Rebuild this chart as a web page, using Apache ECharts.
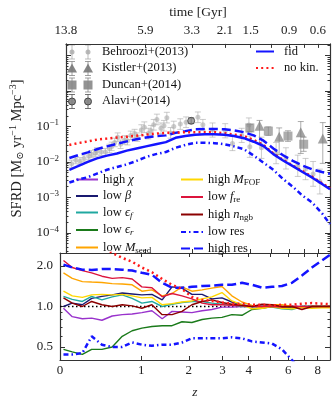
<!DOCTYPE html>
<html lang="en">
<head>
<meta charset="UTF-8">
<title>sfrd</title>
<script src="https://cdn.jsdelivr.net/npm/echarts@6/dist/echarts.min.js"></script>
<style>html,body{margin:0;padding:0;background:#fff}#main{width:332px;height:401px}</style>
</head>
<body>
<div id="main"></div>
<script>
var serif = '"Liberation Serif", "DejaVu Serif", serif';

// ---- data ----
var zModel = [0.03,0.11,0.21,0.31,0.43,0.56,0.70,0.85,1.01,1.19,1.39,1.60,1.83,2.08,2.36,2.65,2.98,3.33,3.72,4.14,4.60,5.10,5.64,6.23,6.87,7.57,8.33,9.0];

// top panel, SFRD in Msun/yr/Mpc^3
var sfrdFid = [0.0060,0.0076,0.0100,0.0126,0.0151,0.0174,0.0209,0.0240,0.0275,0.0316,0.0363,0.0479,0.0537,0.0589,0.0603,0.0603,0.0589,0.0537,0.0468,0.0372,0.0282,0.0166,0.0110,0.0076,0.0052,0.0036,0.0024,0.0017];
var sfrdNoKin = [0.0302,0.0339,0.0380,0.0427,0.0457,0.0490,0.0513,0.0550,0.0589,0.0631,0.0661,0.0676,0.0692,0.0692,0.0692,0.0692,0.0646,0.0589,0.0537,0.0417,0.0302,0.0174,0.0115,0.0079,0.0055,0.0038,0.0025,0.0018];
var sfrdLowRes = [0.00263,0.00316,0.00372,0.00468,0.00603,0.00724,0.00851,0.0107,0.0138,0.0166,0.0191,0.0251,0.0302,0.0347,0.0347,0.0339,0.0316,0.0275,0.0229,0.0151,0.00955,0.00603,0.00331,0.0020,0.00112,0.00071,0.000355,0.000178];
var sfrdHighRes = [0.0129,0.0155,0.0186,0.0229,0.0275,0.0324,0.0380,0.0437,0.0490,0.0537,0.0562,0.0661,0.0741,0.0832,0.0851,0.0851,0.0832,0.0776,0.0692,0.0562,0.0398,0.0240,0.0155,0.0107,0.0079,0.0062,0.0052,0.0046];

// bottom panel, ratio to fid
var ratioHighChi = [0.97,0.84,0.81,0.82,0.79,0.85,0.87,0.88,0.90,0.93,0.81,0.92,0.91,0.90,0.93,0.95,0.99,0.99,1.0,1.0,1.0,1.0,0.99,1.0,1.0,1.0,1.0,1.0];
var ratioLowBeta = [1.0,1.06,1.03,1.15,1.19,1.22,1.26,1.24,1.22,1.23,1.12,1.4,1.37,1.23,1.23,1.14,1.16,1.08,1.03,1.0,1.0,1.02,0.98,1.0,0.99,1.0,1.0,1.0];
var ratioLowEf = [1.19,1.13,1.09,1.19,1.12,1.18,1.22,1.15,1.06,1.09,1.0,1.04,1.07,1.09,1.09,1.06,1.04,1.03,1.0,1.0,1.0,0.99,0.96,0.95,1.0,1.0,1.0,1.0];
var ratioLowEr = [0.48,0.46,0.44,0.48,0.48,0.50,0.60,0.66,0.69,0.71,0.72,0.72,0.77,0.76,0.80,0.82,0.83,0.87,0.86,0.95,0.97,1.0,1.0,0.98,1.0,1.0,1.0,1.0];
var ratioLowMseed = [1.78,1.62,1.53,1.52,1.51,1.48,1.47,1.45,1.3,1.33,1.2,1.25,1.4,1.3,1.33,1.37,1.41,1.2,1.08,1.02,0.97,1.03,1.03,1.0,0.98,1.0,1.0,1.0];
var ratioHighMfof = [1.30,1.2,1.17,1.22,1.23,1.22,1.23,1.2,1.16,1.17,1.03,1.05,1.08,1.1,1.14,1.18,1.27,1.1,1.03,0.96,0.97,1.0,0.97,0.96,0.98,0.97,0.98,0.98];
var ratioLowFre = [2.2,1.95,1.85,1.78,1.68,1.62,1.64,1.6,1.4,1.38,1.18,1.25,1.2,1.14,1.06,1.03,1.03,1.02,1.01,1.0,1.0,1.0,0.99,1.0,1.0,1.0,1.0,1.0];
var ratioHighNngb = [1.16,1.06,1.0,1.09,1.03,1.0,1.03,1.01,0.97,1.03,0.87,0.87,0.92,1.03,1.09,1.12,1.07,1.04,1.02,1.0,1.04,1.03,1.0,1.0,0.95,1.0,1.0,1.0];
var ratioNoKin = [4.5,4.2,3.8,3.3,2.9,2.5,2.3,2.15,1.95,1.8,1.6,1.45,1.35,1.18,1.12,1.1,1.07,1.05,1.05,1.03,1.03,1.02,1.03,1.03,1.05,1.06,1.05,1.04];
var ratioLowRes = [0.44,0.44,0.45,0.6,0.52,0.5,0.5,0.54,0.52,0.51,0.52,0.52,0.54,0.58,0.58,0.58,0.58,0.59,0.58,0.55,0.54,0.53,0.48,0.4,0.33,0.27,0.22,0.19];
var ratioHighRes = [2.05,1.95,1.88,1.87,1.9,1.9,1.88,1.85,1.78,1.72,1.5,1.38,1.38,1.4,1.42,1.43,1.45,1.45,1.5,1.45,1.38,1.4,1.42,1.5,1.7,1.95,2.2,2.42];

// observations (errors in dex)
var behZ = [0.05,0.09,0.13,0.17,0.22,0.25,0.29,0.31,0.36,0.41,0.46,0.49,0.53,0.57,0.61,0.67,0.71,0.76,0.82,0.86,0.93,0.98,1.05,1.10,1.15,1.21,1.29,1.35,1.41,1.49,1.56,1.71,1.85,2.16,2.30,2.59,3.01,3.27,3.63,3.93,3.97,4.50,5.25,5.81,6.55,7.08,7.63,8.15];
var behSFRD = [0.0089,0.0112,0.0105,0.0126,0.0145,0.0166,0.0178,0.0200,0.0191,0.0191,0.0240,0.0275,0.0355,0.0501,0.0316,0.0417,0.0398,0.0562,0.0631,0.0501,0.0794,0.0955,0.0631,0.0759,0.112,0.158,0.0891,0.105,0.178,0.0661,0.100,0.117,0.132,0.182,0.112,0.0794,0.0759,0.0331,0.0562,0.110,0.0269,0.0251,0.0178,0.0126,0.0078,0.0063,0.0046,0.0028];
var behErr = [0.1,0.1,0.1,0.1,0.1,0.1,0.1,0.1,0.1,0.1,0.12,0.12,0.12,0.12,0.12,0.12,0.12,0.12,0.12,0.12,0.15,0.15,0.15,0.15,0.15,0.15,0.15,0.15,0.15,0.15,0.15,0.15,0.15,0.15,0.15,0.2,0.2,0.2,0.2,0.2,0.3,0.3,0.3,0.3,0.3,0.3,0.35,0.35];
var kisZ = [4.41,5.42,6.75,8.39];
var kisSFRD = [0.105,0.0513,0.0692,0.0457];
var kisErrLo = [0.5,0.5,0.6,0.7];
var kisErrHi = [0.15,0.25,0.3,0.45];
var dunZ = [3.97,4.84,5.93,6.95];
var dunSFRD = [0.0912,0.0741,0.0537,0.0316];
var dunErr = [0.1,0.12,0.15,0.2];
var alaZ = [1.98];
var alaSFRD = [0.145];
var alaErr = [0.08];

// axis ticks
var zTickLabels = [0, 1, 2, 3, 4, 6, 8];
var timeLabels = ['13.8', '5.9', '3.3', '2.1', '1.5', '0.9', '0.6'];
var ratioLabels = [0.5, 1, 2];

// ---- chart ----
var chart = echarts.init(document.getElementById('main'));

function pts(zs, vs) {
    return zs.map(function (z, i) { return [1 + z, vs[i]]; });
}

var xTicks = [2, 3, 4, 5, 6, 7, 8, 9];
var xLabelVals = zTickLabels.map(function (z) { return 1 + z; });
var yMajor = [1e-4, 1e-3, 1e-2, 1e-1, 1, 10];
var yMinor = [];
[1e-5, 1e-4, 1e-3, 1e-2, 1e-1, 1, 10].forEach(function (d) {
    for (var k = 2; k <= 9; k++) yMinor.push(+(k * d).toPrecision(3));
});
var rMajor = [0.5, 1, 2];
var rMinor = [0.6, 0.7, 0.8, 0.9];

var lineCol = '#333';
var labelStyle = { fontFamily: serif, fontSize: 13, color: '#222' };

function xAx(grid, pos, extra) {
    var a = {
        gridIndex: grid, type: 'log', logBase: 10, min: 1, max: 10, position: pos,
        axisLine: { lineStyle: { color: lineCol, width: 1.2 } },
        axisTick: { inside: true, length: 4, customValues: xTicks, lineStyle: { color: lineCol, width: 1 } },
        axisLabel: { show: false },
        splitLine: { show: false }, minorTick: { show: false }
    };
    return Object.assign(a, extra || {});
}
function yAx(grid, pos, min, max, ticks, len, extra) {
    var a = {
        gridIndex: grid, type: 'log', logBase: 10, min: min, max: max, position: pos,
        axisLine: { show: true, lineStyle: { color: lineCol, width: 1.2 } },
        axisTick: { inside: true, length: len, customValues: ticks, lineStyle: { color: lineCol, width: 1 } },
        axisLabel: { show: false },
        splitLine: { show: false }, minorTick: { show: false }
    };
    return Object.assign(a, extra || {});
}

var yMin = 2.7e-5, yMax = 21.4;

var xAxes = [
    xAx(0, 'bottom'),
    xAx(0, 'top', {
        axisLabel: Object.assign({
            show: true, margin: 7, customValues: xLabelVals,
            formatter: function (v) { return timeLabels[zTickLabels.indexOf(Math.round(v - 1))]; }
        }, labelStyle),
        name: 'time [Gyr]', nameLocation: 'middle', nameGap: 21,
        nameTextStyle: { fontFamily: serif, fontSize: 13.5, color: '#222' }
    }),
    xAx(1, 'bottom', {
        axisLabel: Object.assign({
            show: true, margin: 4, customValues: xLabelVals,
            formatter: function (v) { return String(Math.round(v - 1)); }
        }, labelStyle),
        name: 'z', nameLocation: 'middle', nameGap: 25,
        nameTextStyle: { fontFamily: serif, fontSize: 13.5, fontStyle: 'italic', color: '#222' }
    }),
    xAx(1, 'top')
];

var supRich = {
    b: { fontFamily: serif, fontSize: 13, color: '#222' },
    p: { fontFamily: serif, fontSize: 9, color: '#222', padding: [0, 0, 7, 0] },
    s: { fontFamily: serif, fontSize: 9, color: '#222', padding: [6, 0, 0, 0] },
    n: { fontFamily: serif, fontSize: 14.5, color: '#222' },
    np: { fontFamily: serif, fontSize: 10, color: '#222', padding: [0, 0, 8, 0] },
    ns: { fontFamily: serif, fontSize: 10, color: '#222', padding: [7, 0, 0, 0] }
};

var yAxes = [
    yAx(0, 'left', yMin, yMax, yMajor, 5, {
        axisLabel: {
            show: true, margin: 7, customValues: [1e-4, 1e-3, 1e-2, 1e-1],
            formatter: function (v) { return '{b|10}{p|\u2212' + Math.round(-Math.log10(v)) + '}'; },
            rich: supRich
        },
        name: '{n|SFRD [M}{ns|\u2299}{n| yr}{np|\u22121}{n| Mpc}{np|\u22123}{n|]}', nameLocation: 'middle', nameGap: 28,
        nameTextStyle: { fontFamily: serif, fontSize: 14.5, color: '#222', rich: supRich }
    }),
    yAx(0, 'left', yMin, yMax, yMinor, 2.5, { axisLine: { show: false } }),
    yAx(0, 'right', yMin, yMax, yMajor, 5),
    yAx(0, 'right', yMin, yMax, yMinor, 2.5, { axisLine: { show: false } }),
    yAx(1, 'left', 0.4, 2.5, rMajor, 5, {
        axisLabel: Object.assign({
            show: true, margin: 7, customValues: ratioLabels,
            formatter: function (v) { return v.toFixed(1); }
        }, labelStyle)
    }),
    yAx(1, 'left', 0.4, 2.5, rMinor, 2.5, { axisLine: { show: false } }),
    yAx(1, 'right', 0.4, 2.5, rMajor, 5),
    yAx(1, 'right', 0.4, 2.5, rMinor, 2.5, { axisLine: { show: false } })
];

function errorBars(zs, vals, lo, hi, color, w) {
    return {
        type: 'custom', xAxisIndex: 0, yAxisIndex: 0, clip: true, silent: true, z: 1,
        renderItem: function (params, api) {
            var a = api.coord([api.value(0), api.value(1)]);
            var b = api.coord([api.value(0), api.value(2)]);
            var st = { stroke: color, lineWidth: 1 };
            return {
                type: 'group', children: [
                    { type: 'line', shape: { x1: a[0], y1: a[1], x2: b[0], y2: b[1] }, style: st },
                    { type: 'line', shape: { x1: a[0] - w, y1: a[1], x2: a[0] + w, y2: a[1] }, style: st },
                    { type: 'line', shape: { x1: b[0] - w, y1: b[1], x2: b[0] + w, y2: b[1] }, style: st }
                ]
            };
        },
        encode: { x: 0, y: [1, 2] },
        data: zs.map(function (z, i) {
            return [1 + z, vals[i] / Math.pow(10, lo[i]), vals[i] * Math.pow(10, hi[i])];
        })
    };
}
function obs(name, zs, vals, symbol, size, fill, border) {
    return {
        name: name, type: 'scatter', xAxisIndex: 0, yAxisIndex: 0, z: 2, silent: true,
        symbol: symbol, symbolSize: size,
        itemStyle: { color: fill, borderColor: border || fill, borderWidth: border ? 1 : 0 },
        data: pts(zs, vals)
    };
}

var blue = '#1414ff', red = '#ff1a1a';
function topLine(name, vals, color, type, width) {
    return {
        name: name, type: 'line', xAxisIndex: 0, yAxisIndex: 0, z: 5, silent: true,
        showSymbol: false, symbol: 'none',
        lineStyle: { color: color, width: width, type: type },
        itemStyle: { color: color },
        data: pts(zModel, vals)
    };
}
function ratioLine(name, vals, color, type, width) {
    return {
        name: name, type: 'line', xAxisIndex: 2, yAxisIndex: 4, z: 5, silent: true,
        showSymbol: false, symbol: 'none',
        lineStyle: { color: color, width: width, type: type },
        itemStyle: { color: color },
        data: pts(zModel, vals)
    };
}

var dotted = [2, 3.2], dashDot = [5, 3, 1.5, 3], dashed = [9, 4];

var series = [
    errorBars(behZ, behSFRD, behErr, behErr, 'rgba(170,170,170,0.6)', 3),
    obs('Behroozi+(2013)', behZ, behSFRD, 'circle', 5, 'rgba(170,170,170,0.75)'),
    errorBars(kisZ, kisSFRD, kisErrLo, kisErrHi, 'rgba(120,120,120,0.6)', 3),
    obs('Kistler+(2013)', kisZ, kisSFRD, 'triangle', 10, 'rgba(120,120,120,0.85)'),
    errorBars(dunZ, dunSFRD, dunErr, dunErr, 'rgba(120,120,120,0.6)', 3),
    obs('Duncan+(2014)', dunZ, dunSFRD, 'rect', 9, 'rgba(135,135,135,0.85)'),
    errorBars(alaZ, alaSFRD, alaErr, alaErr, 'rgba(80,80,80,0.8)', 3),
    obs('Alavi+(2014)', alaZ, alaSFRD, 'circle', 7, 'rgba(130,130,130,0.9)', '#444'),

    topLine('low res', sfrdLowRes, blue, dashDot, 2.5),
    topLine('high res', sfrdHighRes, blue, dashed, 2.5),
    topLine('no kin.', sfrdNoKin, red, dotted, 2.5),
    topLine('fid', sfrdFid, blue, 'solid', 2.5),

    Object.assign(ratioLine('high \u03c7', ratioHighChi, '#9932cc', 'solid', 1.4), {
        markLine: {
            silent: true, symbol: 'none', label: { show: false },
            lineStyle: { color: '#000', type: [1.5, 2.5], width: 1.3 },
            data: [{ yAxis: 1 }]
        }
    }),
    ratioLine('low \u03b2', ratioLowBeta, '#191970', 'solid', 1.4),
    ratioLine('low \u03f5f', ratioLowEf, '#20a8a0', 'solid', 1.4),
    ratioLine('low \u03f5r', ratioLowEr, '#1a7a1a', 'solid', 1.4),
    ratioLine('low Mseed', ratioLowMseed, '#ffa500', 'solid', 1.4),
    ratioLine('high MFOF', ratioHighMfof, '#ffd700', 'solid', 1.4),
    ratioLine('low fre', ratioLowFre, '#dc143c', 'solid', 1.4),
    ratioLine('high nngb', ratioHighNngb, '#8b0000', 'solid', 1.4),
    ratioLine('low res', ratioLowRes, blue, dashDot, 2.5),
    ratioLine('high res', ratioHighRes, blue, dashed, 2.5),
    ratioLine('no kin.', ratioNoKin, red, dotted, 2.5)
];

var legendText = {
    'high \u03c7': 'high {i|\u03c7}',
    'low \u03b2': 'low {i|\u03b2}',
    'low \u03f5f': 'low {i|\u03f5}{s|f}',
    'low \u03f5r': 'low {i|\u03f5}{s|r}',
    'low Mseed': 'low {i|M}{r|seed}',
    'high MFOF': 'high {i|M}{r|FOF}',
    'low fre': 'low {i|f}{r|re}',
    'high nngb': 'high {i|n}{r|ngb}'
};
var legRich = {
    i: { fontFamily: serif, fontStyle: 'italic', fontSize: 12.5, color: '#111' },
    s: { fontFamily: serif, fontStyle: 'italic', fontSize: 9, color: '#111', padding: [6, 0, 0, 0] },
    r: { fontFamily: serif, fontSize: 9, color: '#111', padding: [6, 0, 0, 0] }
};
function legend(names, left, top, w, pad) {
    return {
        data: names, orient: 'vertical', left: left, top: top, padding: 0,
        itemWidth: w, itemHeight: 13, itemGap: 3.5, selectedMode: false,
        itemStyle: { opacity: 0 },
        formatter: function (n) { return legendText[n] || n; },
        textStyle: { fontFamily: serif, fontSize: 12.5, color: '#111', rich: legRich, padding: [0, 0, 0, pad || 0] }
    };
}

// observational legend (two markers per row)
var obsLeg = [
    { t: 'Behroozi+(2013)', y: 52, sym: 'circle', r: 2.5, c: 'rgba(170,170,170,0.8)', e: 'rgba(170,170,170,0.8)' },
    { t: 'Kistler+(2013)', y: 68.5, sym: 'tri', r: 5, c: 'rgba(120,120,120,0.9)', e: 'rgba(120,120,120,0.7)' },
    { t: 'Duncan+(2014)', y: 85, sym: 'rect', r: 4.5, c: 'rgba(135,135,135,0.9)', e: 'rgba(120,120,120,0.7)' },
    { t: 'Alavi+(2014)', y: 101.5, sym: 'circle', r: 3.5, c: 'rgba(130,130,130,0.9)', e: 'rgba(80,80,80,0.8)', b: '#444' }
];
var graphics = [];
obsLeg.forEach(function (o) {
    [72, 88].forEach(function (x) {
        var st = { stroke: o.e, lineWidth: 1 };
        graphics.push({ type: 'line', shape: { x1: x, y1: o.y - 7, x2: x, y2: o.y + 7 }, style: st });
        graphics.push({ type: 'line', shape: { x1: x - 3, y1: o.y - 7, x2: x + 3, y2: o.y - 7 }, style: st });
        graphics.push({ type: 'line', shape: { x1: x - 3, y1: o.y + 7, x2: x + 3, y2: o.y + 7 }, style: st });
        if (o.sym === 'circle') {
            graphics.push({ type: 'circle', shape: { cx: x, cy: o.y, r: o.r }, style: { fill: o.c, stroke: o.b || null, lineWidth: 1 } });
        } else if (o.sym === 'rect') {
            graphics.push({ type: 'rect', shape: { x: x - o.r, y: o.y - o.r, width: 2 * o.r, height: 2 * o.r }, style: { fill: o.c } });
        } else {
            graphics.push({ type: 'polygon', shape: { points: [[x, o.y - o.r], [x + o.r, o.y + o.r * 0.8], [x - o.r, o.y + o.r * 0.8]] }, style: { fill: o.c } });
        }
    });
    graphics.push({ type: 'text', left: 102, top: o.y - 7, style: { text: o.t, fontFamily: serif, fontSize: 12.5, fill: '#111' } });
});

chart.setOption({
    animation: false,
    textStyle: { fontFamily: serif },
    grid: [
        { left: 60, top: 37, width: 270, height: 216 },
        { left: 60, top: 253, width: 270, height: 107 }
    ],
    xAxis: xAxes,
    yAxis: yAxes,
    legend: [
        legend(['fid', 'no kin.'], 255, 45, 18, 5),
        legend(['high \u03c7', 'low \u03b2', 'low \u03f5f', 'low \u03f5r', 'low Mseed'], 75, 173, 22),
        legend(['high MFOF', 'low fre', 'high nngb', 'low res', 'high res'], 180, 173, 22)
    ],
    graphic: graphics,
    series: series
});
</script>
</body>
</html>
